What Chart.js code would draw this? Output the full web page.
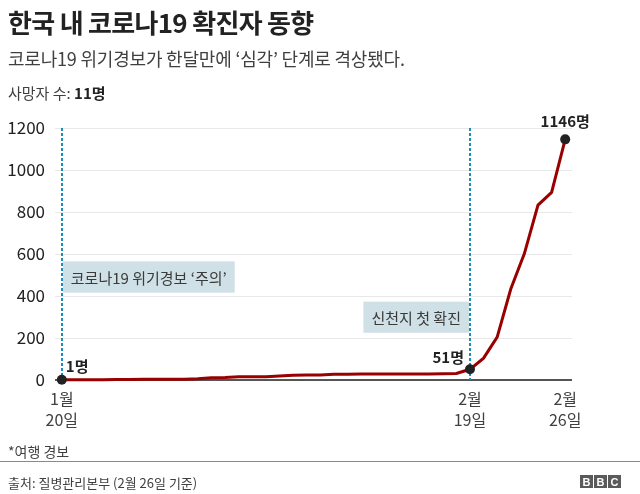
<!DOCTYPE html>
<html>
<head>
<meta charset="utf-8">
<script src="https://cdn.jsdelivr.net/npm/chart.js@4/dist/chart.umd.min.js"></script>
<style>
  html, body { margin:0; padding:0; background:#fff; }
  body { width:640px; height:494px; position:relative; overflow:hidden; font-family:'Noto Sans CJK KR','Noto Sans',sans-serif; color:#222; }
  #wrap { position:absolute; left:0; top:0; width:640px; height:494px; }
  .t { position:absolute; left:8px; white-space:nowrap; }
  #title { top:3px; font-size:26px; font-weight:bold; letter-spacing:-0.7px; color:#222; }
  #sub { top:45px; font-size:18px; color:#404040; letter-spacing:-0.2px; }
  #deaths { top:82px; font-size:15px; color:#404040; }
  #deaths b { color:#222; }
  #note { top:441px; font-size:14px; color:#404040; }
  #sep { position:absolute; left:0; top:461px; width:640px; height:1px; background:#8a8a8a; }
  #src { top:473px; font-size:13px; color:#404040; }
  #bbc { position:absolute; left:580px; top:475px; display:flex; gap:1px; }
  #bbc span { width:13px; height:13px; background:#5a5a5a; color:#fff; font:bold 11px 'Liberation Sans',sans-serif; display:flex; align-items:center; justify-content:center; }
</style>
</head>
<body>
<div id="wrap"><canvas id="c" width="640" height="494"></canvas></div>
<div class="t" id="title">한국 내 코로나19 확진자 동향</div>
<div class="t" id="sub">코로나19 위기경보가 한달만에 ‘심각’ 단계로 격상됐다.</div>
<div class="t" id="deaths">사망자 수: <b>11명</b></div>
<div class="t" id="note">*여행 경보</div>
<div id="sep"></div>
<div class="t" id="src">출처: 질병관리본부 (2월 26일 기준)</div>
<div id="bbc"><span>B</span><span>B</span><span>C</span></div>
<script>
// Dates: Jan 20 .. Feb 26, 2020 (one per day)
const dates = ['1/20','1/21','1/22','1/23','1/24','1/25','1/26','1/27','1/28','1/29','1/30','1/31',
  '2/1','2/2','2/3','2/4','2/5','2/6','2/7','2/8','2/9','2/10','2/11','2/12','2/13','2/14','2/15',
  '2/16','2/17','2/18','2/19','2/20','2/21','2/22','2/23','2/24','2/25','2/26'];
const cases = [1,1,1,1,2,2,3,4,4,4,6,11,
  12,15,15,16,19,23,24,24,27,27,28,28,28,28,28,
  29,30,31,51,104,204,433,602,833,893,1146];
const tickDays = [0, 30, 37];
const tickLabels = [['1월','20일'], ['2월','19일'], ['2월','26일']];
const yTicks = [0,200,400,600,800,1000,1200];
const markedDays = [0, 30, 37];
const markedLabels = ['1명', '51명', '1146명'];
const eventDays = [0, 30];
const eventTexts = ['코로나19 위기경보 ‘주의’', '신천지 첫 확진'];
const eventBoxTop = [565, 373];
const eventBoxBottom = [416, 225];

const FONT = "'Noto Sans CJK KR','Noto Sans',sans-serif";

const points = cases.map((v, i) => ({x: i, y: v}));

const overlay = {
  id: 'overlay',
  beforeDatasetsDraw(chart) {
    const {ctx, chartArea, scales:{x, y}} = chart;
    ctx.save();
    eventDays.forEach((d, i) => {
      const px = x.getPixelForValue(d);
      const top = y.getPixelForValue(eventBoxTop[i]);
      const bot = y.getPixelForValue(eventBoxBottom[i]);
      ctx.font = '15px ' + FONT;
      const w = ctx.measureText(eventTexts[i]).width + 16;
      const left = i === 0 ? px + 1 : px - 1 - w;
      ctx.fillStyle = '#cfe0e6';
      ctx.fillRect(left, top, w, bot - top);
      ctx.fillStyle = '#3a3a3a';
      ctx.textBaseline = 'middle';
      ctx.textAlign = 'left';
      ctx.fillText(eventTexts[i], left + 8, (top + bot) / 2 + 1);
    });
    ctx.strokeStyle = '#1a8dbd';
    ctx.lineWidth = 2;
    ctx.setLineDash([3, 2]);
    eventDays.forEach(d => {
      const px = Math.round(x.getPixelForValue(d));
      ctx.beginPath();
      ctx.moveTo(px, chartArea.top);
      ctx.lineTo(px, y.getPixelForValue(0));
      ctx.stroke();
    });
    ctx.restore();
  },
  afterDatasetsDraw(chart) {
    const {ctx, scales:{x, y}} = chart;
    ctx.save();
    ctx.fillStyle = '#222';
    ctx.font = 'bold 15px ' + FONT;
    ctx.textBaseline = 'alphabetic';
    markedDays.forEach((d, i) => {
      const px = x.getPixelForValue(d);
      const py = y.getPixelForValue(cases[d]);
      if (i === 0) { ctx.textAlign = 'left'; ctx.fillText(markedLabels[i], px + 4, py - 8); }
      else if (i === 1) { ctx.textAlign = 'right'; ctx.fillText(markedLabels[i], px - 6, py - 6); }
      else { ctx.textAlign = 'center'; ctx.fillText(markedLabels[i], px, py - 12); }
    });
    ctx.restore();
  }
};

new Chart(document.getElementById('c'), {
  type: 'line',
  data: {
    labels: dates,
    datasets: [{
      data: points,
      borderColor: '#990000',
      borderWidth: 3,
      tension: 0,
      fill: false,
      pointRadius: points.map((p, i) => markedDays.includes(i) ? 5 : 0),
      pointHoverRadius: 0,
      pointBackgroundColor: '#222',
      pointBorderColor: '#222',
      pointBorderWidth: 0,
      clip: false
    }]
  },
  options: {
    responsive: false,
    animation: false,
    events: [],
    layout: { padding: { left: 0, top: 128, right: 68, bottom: 0 } },
    plugins: { legend: { display: false }, tooltip: { enabled: false } },
    scales: {
      x: {
        type: 'linear',
        min: -0.5,
        max: 37.5,
        afterFit(s) { s.height = 114; },
        afterBuildTicks(s) { s.ticks = tickDays.map(v => ({value: v})); },
        grid: { display: false },
        border: { display: false },
        ticks: {
          autoSkip: false,
          maxRotation: 0,
          padding: 0,
          color: '#404040',
          font: { family: FONT, size: 16, lineHeight: 1.35 },
          callback: v => tickLabels[tickDays.indexOf(v)]
        }
      },
      y: {
        min: 0,
        max: 1200,
        afterFit(s) { s.width = 55; },
        afterBuildTicks(s) { s.ticks = yTicks.map(v => ({value: v})); },
        border: { display: false },
        grid: {
          drawTicks: false,
          color: c => c.tick && c.tick.value === 0 ? '#555' : '#e8e8e8',
          lineWidth: c => c.tick && c.tick.value === 0 ? 2 : 1
        },
        ticks: {
          padding: 10,
          color: '#222',
          font: { family: FONT, size: 17 },
          callback: v => String(v)
        }
      }
    }
  },
  plugins: [overlay]
});
</script>
</body>
</html>
